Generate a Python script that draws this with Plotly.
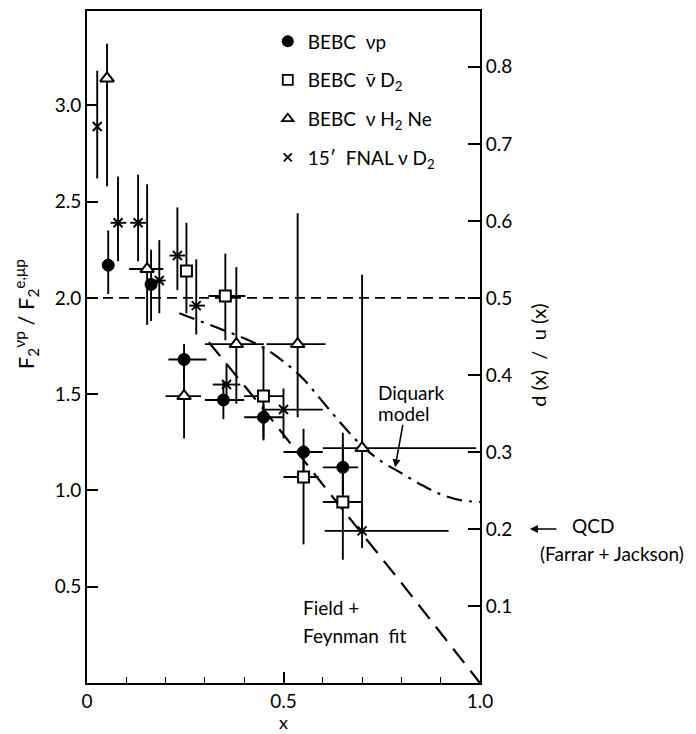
import plotly.graph_objects as go

FONT = "Lato"

# ---------------- data ----------------
# BEBC nu p (filled circles)
bp_x = [0.054, 0.163, 0.247, 0.347, 0.449, 0.551, 0.651]
bp_y = [2.17, 2.07, 1.68, 1.47, 1.38, 1.20, 1.12]
bp_xlo = [0.054, 0.163, 0.207, 0.300, 0.400, 0.500, 0.600]
bp_xhi = [0.054, 0.163, 0.304, 0.400, 0.500, 0.600, 0.690]
bp_ylo = [2.02, 1.88, 1.57, 1.37, 1.27, 1.07, 0.98]
bp_yhi = [2.35, 2.25, 1.76, 1.57, 1.45, 1.32, 1.30]

# BEBC anti-nu D2 (open squares)
bd_x = [0.253, 0.352, 0.449, 0.551, 0.651]
bd_y = [2.14, 2.01, 1.49, 1.07, 0.94]
bd_xlo = [0.253, 0.309, 0.400, 0.500, 0.600]
bd_xhi = [0.253, 0.403, 0.500, 0.590, 0.700]
bd_ylo = [1.92, 1.78, 1.26, 0.72, 0.64]
bd_yhi = [2.39, 2.23, 1.75, 1.22, 1.24]

# BEBC nu H2 Ne (open triangles)
bn_x = [0.051, 0.153, 0.247, 0.380, 0.536, 0.700]
bn_y = [3.14, 2.15, 1.49, 1.76, 1.76, 1.22]
bn_xlo = [0.051, 0.107, 0.200, 0.300, 0.457, 0.600]
bn_xhi = [0.051, 0.194, 0.290, 0.450, 0.607, 0.990]
bn_ylo = [2.58, 1.86, 1.27, 1.45, 1.38, 0.80]
bn_yhi = [3.32, 2.59, 1.70, 2.16, 2.44, 2.12]

# 15' FNAL nu D2 (crosses)
fn_x = [0.026, 0.079, 0.130, 0.184, 0.230, 0.278, 0.355, 0.500, 0.700]
fn_y = [2.89, 2.39, 2.39, 2.09, 2.22, 1.96, 1.55, 1.42, 0.79]
fn_xlo = [0.026, 0.060, 0.110, 0.170, 0.210, 0.260, 0.320, 0.450, 0.605]
fn_xhi = [0.026, 0.100, 0.150, 0.200, 0.250, 0.300, 0.390, 0.600, 0.920]
fn_ylo = [2.62, 2.19, 2.19, 1.92, 2.04, 1.81, 1.47, 1.27, 0.70]
fn_yhi = [3.18, 2.63, 2.64, 2.30, 2.47, 2.20, 1.66, 1.53, 0.90]

# reference line d/u = 0.5
ref_x = [0.0, 1.0]
ref_y = [2.0, 2.0]

# Diquark model curve
dq_x = [0.235, 0.30, 0.35, 0.40, 0.45, 0.50, 0.55, 0.60, 0.65, 0.70, 0.75, 0.80, 0.85, 0.90, 0.95, 1.00]
dq_y = [1.92, 1.87, 1.83, 1.79, 1.74, 1.67, 1.58, 1.46, 1.34, 1.23, 1.15, 1.09, 1.03, 0.98, 0.95, 0.94]

# Field + Feynman fit
ff_x = [0.31, 0.45, 0.60, 0.80, 1.00]
ff_y = [1.77, 1.42, 1.03, 0.52, 0.00]

left_ticks = [0.5, 1.0, 1.5, 2.0, 2.5, 3.0]
right_ticks = [0.1, 0.2, 0.3, 0.4, 0.5, 0.6, 0.7, 0.8]
x_ticks = [0, 0.5, 1.0]
x_ticktext = ["0", "0.5", "1.0"]

YMAX = 3.49


def errs(v, lo, hi):
    return [h - a for a, h in zip(v, hi)], [a - l for a, l in zip(v, lo)]


fig = go.Figure()

# curves
fig.add_trace(go.Scatter(x=ref_x, y=ref_y, mode="lines", showlegend=False,
                         line=dict(color="black", width=1.8, dash="10px,6px")))
fig.add_trace(go.Scatter(x=dq_x, y=dq_y, mode="lines", showlegend=False, line_shape="spline",
                         line=dict(color="black", width=2.2, dash="16px,7px,3px,7px")))
fig.add_trace(go.Scatter(x=ff_x, y=ff_y, mode="lines", showlegend=False,
                         line=dict(color="black", width=2.2, dash="18px,10px")))

series = [
    (bp_x, bp_y, bp_xlo, bp_xhi, bp_ylo, bp_yhi,
     dict(symbol="circle", size=12, color="black", line=dict(color="black", width=1))),
    (bd_x, bd_y, bd_xlo, bd_xhi, bd_ylo, bd_yhi,
     dict(symbol="square", size=11, color="white", line=dict(color="black", width=2))),
    (bn_x, bn_y, bn_xlo, bn_xhi, bn_ylo, bn_yhi,
     dict(symbol="triangle-up", size=12, color="white", line=dict(color="black", width=2))),
    (fn_x, fn_y, fn_xlo, fn_xhi, fn_ylo, fn_yhi,
     dict(symbol="x-thin-open", size=9, color="black", line=dict(color="black", width=2))),
]
for x, y, xlo, xhi, ylo, yhi, mk in series:
    exp, exm = errs(x, xlo, xhi)
    eyp, eym = errs(y, ylo, yhi)
    fig.add_trace(go.Scatter(
        x=x, y=y, mode="markers", marker=mk, showlegend=False,
        error_x=dict(type="data", symmetric=False, array=exp, arrayminus=exm,
                     width=0, thickness=1.9, color="black"),
        error_y=dict(type="data", symmetric=False, array=eyp, arrayminus=eym,
                     width=0, thickness=1.9, color="black"),
    ))

# legend-only traces
legend_names = ["BEBC  νp", "BEBC  ν\u0304 D<sub>2</sub>", "BEBC  ν H<sub>2</sub> Ne", "15′  FNAL ν D<sub>2</sub>"]
legend_markers = [
    dict(symbol="circle", size=12, color="black"),
    dict(symbol="square-open", size=10, color="black", line=dict(width=1.8)),
    dict(symbol="triangle-up-open", size=10, color="black", line=dict(width=1.8)),
    dict(symbol="x-thin-open", size=8, color="black", line=dict(width=1.8)),
]
for i, (nm, mk) in enumerate(zip(legend_names, legend_markers)):
    fig.add_trace(go.Scatter(x=[None], y=[None], mode="markers", name=nm, marker=mk,
                             legendgroup=f"g{i}", showlegend=True))

# secondary axis carrier
fig.add_trace(go.Scatter(x=[None], y=[None], yaxis="y2", showlegend=False))

fig.update_layout(
    width=696, height=734,
    margin=dict(l=87, r=216, t=9, b=51),
    paper_bgcolor="white", plot_bgcolor="white",
    font=dict(family=FONT, size=18, color="black"),
    showlegend=True,
    legend=dict(x=0.46, y=0.983, xanchor="left", yanchor="top", bgcolor="rgba(0,0,0,0)",
                tracegroupgap=11, font=dict(size=19, family=FONT), itemclick=False),
    xaxis=dict(range=[0, 1.0], tickvals=x_ticks, ticktext=x_ticktext, ticks="inside",
               ticklen=11, tickwidth=1.6, tickcolor="black",
               showline=True, linecolor="black", linewidth=2, mirror=True,
               showgrid=False, zeroline=False,
               minor=dict(dtick=0.1, ticks="inside", ticklen=6, tickwidth=1.4, tickcolor="black"),
               tickfont=dict(size=19)),
    yaxis=dict(range=[0, YMAX], tickvals=left_ticks, ticktext=[f"{v:.1f}" for v in left_ticks],
               ticks="inside", ticklen=11, tickwidth=1.6, tickcolor="black",
               showline=True, linecolor="black", linewidth=2,
               showgrid=False, zeroline=False, tickfont=dict(size=19)),
    yaxis2=dict(range=[0, YMAX / 4], overlaying="y", side="right",
                tickvals=right_ticks, ticktext=[f"{v:.1f}" for v in right_ticks],
                ticks="inside", ticklen=12, tickwidth=1.6, tickcolor="black",
                showline=True, linecolor="black", linewidth=2,
                showgrid=False, zeroline=False, tickfont=dict(size=19)),
)

ann = []
# axis titles
ann.append(dict(text="x", xref="paper", yref="paper", x=0.5, y=-0.0757, showarrow=False,
                font=dict(size=18), xanchor="center", yanchor="bottom", borderpad=0))
ann.append(dict(text="F<sub>2</sub><sup>νp</sup> / F<sub>2</sub><sup>e,μp</sup>", xref="paper", yref="paper",
                x=-0.155, y=0.549, textangle=-90, showarrow=False, font=dict(size=22),
                xanchor="center", yanchor="middle"))
ann.append(dict(text="d (x)  /  u (x)", xref="paper", yref="paper",
                x=1.147, y=0.488, textangle=-90, showarrow=False, font=dict(size=20),
                xanchor="center", yanchor="middle"))
# curve labels
ann.append(dict(text="Diquark", x=0.736, y=1.51, xref="x", yref="y", showarrow=False,
                xanchor="left", yanchor="middle", font=dict(size=19)))
ann.append(dict(text="model", x=0.736, y=1.40, xref="x", yref="y", showarrow=False,
                xanchor="left", yanchor="middle", font=dict(size=19)))
ann.append(dict(text="", x=0.784, y=1.12, xref="x", yref="y", showarrow=True,
                ax=8, ay=-44, arrowhead=2, arrowsize=1, arrowwidth=1.6, arrowcolor="black"))
ann.append(dict(text="Field +", x=0.545, y=0.394, xref="x", yref="y", showarrow=False,
                xanchor="left", yanchor="middle", font=dict(size=19)))
ann.append(dict(text="Feynman  fit", x=0.545, y=0.249, xref="x", yref="y", showarrow=False,
                xanchor="left", yanchor="middle", font=dict(size=19)))
# QCD
ann.append(dict(text="", x=1.127, y=0.2, xref="paper", yref="y2", showarrow=True,
                ax=28, ay=0, arrowhead=2, arrowsize=1, arrowwidth=1.6, arrowcolor="black"))
ann.append(dict(text="QCD", x=1.2875, y=0.205, xref="paper", yref="y2", showarrow=False,
                xanchor="center", yanchor="middle", font=dict(size=19)))
ann.append(dict(text="(Farrar + Jackson)", x=1.336, y=0.168, xref="paper", yref="y2", showarrow=False,
                xanchor="center", yanchor="middle", font=dict(size=19)))
fig.update_layout(annotations=ann)

fig.write_html("out.html")
